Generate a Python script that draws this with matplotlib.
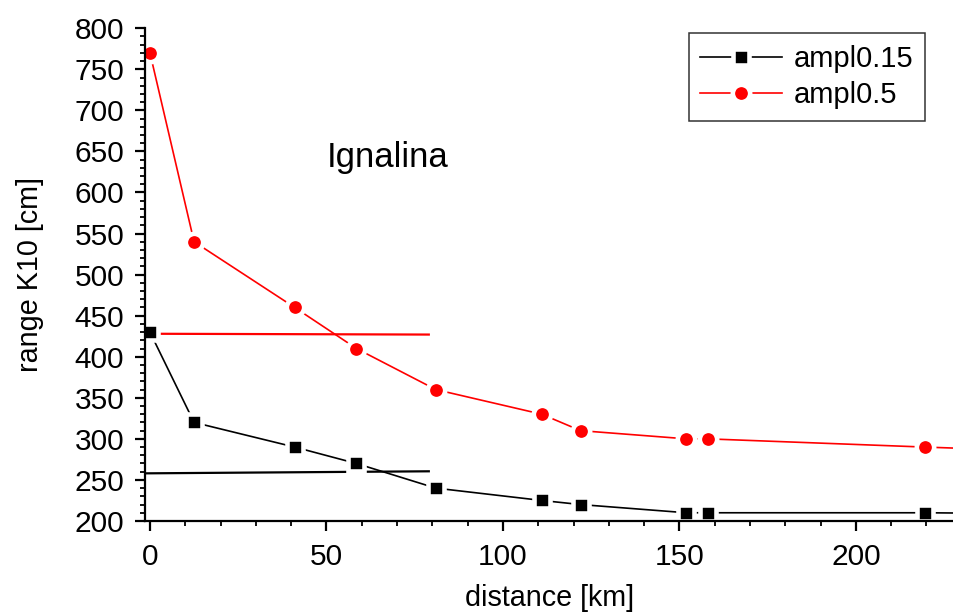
import matplotlib
matplotlib.use("Agg")
import matplotlib.pyplot as plt
from matplotlib.ticker import MultipleLocator

plt.rcParams['font.family'] = ['Liberation Sans', 'DejaVu Sans']

# data
distance = [0, 12.5, 41, 58.5, 81, 111, 122, 152, 158, 219.5, 280]
ampl015 = [430, 320, 290, 270, 240, 225, 220, 210, 210, 210, 208]
ampl05 = [770, 540, 460, 410, 360, 330, 310, 300, 300, 290, 281]
# level lines
level_x = [-1.5, 79]
level_black = [258, 260.5]
level_red = [428, 427]

fig = plt.figure(figsize=(9.54, 6.14), dpi=100)
ax = fig.add_axes([0.152, 0.1515, 0.848, 0.8025])

ax.plot(distance, ampl015, color='black', lw=1.2, marker='s', ms=11.5,
        mfc='black', mec='white', mew=3.3, label='ampl0.15', zorder=2)
ax.plot(distance, ampl05, color='red', lw=1.2, marker='o', ms=12.5,
        mfc='red', mec='white', mew=3.3, label='ampl0.5', zorder=2)
ax.plot(level_x, level_red, color='red', lw=1.6, zorder=1)
ax.plot(level_x, level_black, color='black', lw=1.6, zorder=1)

ax.set_xlim(-1.4, 227.8)
ax.set_ylim(200, 800)
ax.xaxis.set_major_locator(MultipleLocator(50))
ax.xaxis.set_minor_locator(MultipleLocator(10))
ax.yaxis.set_major_locator(MultipleLocator(50))
ax.yaxis.set_minor_locator(MultipleLocator(10))
for s in ['top', 'right']:
    ax.spines[s].set_visible(False)
for s in ['left', 'bottom']:
    ax.spines[s].set_linewidth(1.6)
ax.tick_params(which='major', direction='out', length=7, width=1.6, labelsize=21.5)
ax.tick_params(axis='y', which='major', pad=8)
ax.tick_params(axis='x', which='major', pad=9)
ax.tick_params(which='minor', direction='out', length=3.5, width=1.3)

ax.set_xlabel('distance [km]', fontsize=20.7, labelpad=9.5)
ax.set_ylabel('range K10 [cm]', fontsize=20.7, labelpad=22)

ax.text(67.4, 630.8, 'Ignalina', fontsize=25, ha='center', va='baseline')

leg = ax.legend(loc='upper right', bbox_to_anchor=(0.964, 0.99), borderaxespad=0,
                fontsize=21, fancybox=False, frameon=True, edgecolor='black',
                borderpad=0.4, handlelength=2.8, handletextpad=0.4,
                labelspacing=0.28)
leg.get_frame().set_linewidth(1.1)

fig.savefig('out.png', dpi=100)
